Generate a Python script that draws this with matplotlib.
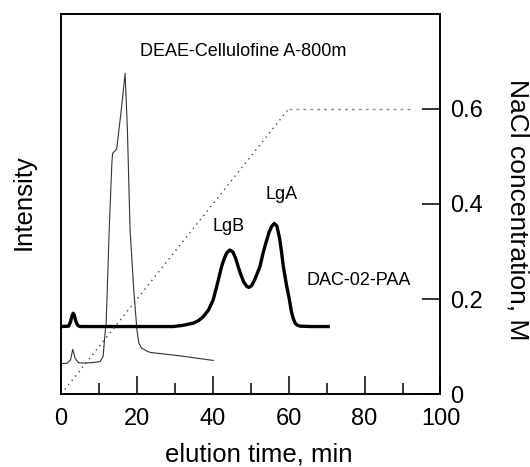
import matplotlib
matplotlib.use("Agg")
import matplotlib.pyplot as plt

plt.rcParams['font.family'] = ['Liberation Sans', 'DejaVu Sans']

# DEAE-Cellulofine A-800m trace (thin), intensity in arbitrary units (0-100)
deae_t = [0, 1.5, 2.5, 3.1, 3.7, 4.6, 6, 8, 10.3, 11.1, 11.6, 11.9, 12.7, 13.4,
          13.6, 14.0, 14.7, 15.8, 16.9, 17.5, 18.2, 19.2, 20.0, 20.5, 21.2,
          22.5, 23.5, 27, 31.4, 35, 40.1]
deae_i = [8.1, 8.1, 9.0, 11.8, 9.5, 8.3, 8.2, 8.3, 8.6, 9.9, 16.0, 18.6, 43.2, 60.7,
          63.3, 63.7, 64.6, 74.0, 84.3, 69.4, 43.2, 27.0, 17.0, 13.5, 12.2,
          11.4, 11.0, 10.6, 10.1, 9.6, 8.9]

# DAC-02-PAA trace (thick)
dac_t = [0, 2.0, 2.5, 2.9, 3.2, 3.5, 3.9, 4.4, 5, 10, 20, 29.6, 32, 34.9, 36.3,
         37.5, 38.9, 40.1, 41.2, 42.3, 43.0, 43.7, 44.5, 45.3, 46.0, 46.7, 47.4,
         48.2, 49.0, 49.5, 50.2, 51.0, 51.8, 52.4, 53.3, 54.2, 54.8, 55.5, 56.2,
         56.9, 57.6, 58.1, 58.6, 59.4, 60.2, 60.7, 61.2, 61.7, 62.2, 63.0, 66, 70.4]
dac_i = [17.8, 17.9, 19.0, 20.6, 21.3, 20.8, 19.2, 18.1, 17.8, 17.8, 17.8, 17.8,
         18.1, 18.7, 19.4, 20.4, 22.2, 24.8, 29.0, 33.5, 35.6, 37.2, 37.9, 37.4,
         35.8, 33.5, 31.4, 29.4, 28.3, 28.1, 28.5, 30.0, 32.0, 33.5, 37.3, 40.5,
         42.5, 44.1, 44.9, 44.2, 41.0, 37.5, 33.5, 28.8, 24.8, 21.8, 19.9, 18.7,
         18.2, 17.9, 17.8, 17.8]

# NaCl gradient
grad_t = [1, 60]
grad_c = [0.01, 0.6]
hold_t = [60, 93]
hold_c = [0.6, 0.6]

x_ticks = [0, 20, 40, 60, 80, 100]
nacl_ticks = [0, 0.2, 0.4, 0.6]
nacl_labels = ['0', '0.2', '0.4', '0.6']

fig = plt.figure(figsize=(5.3, 4.67), dpi=100)
ax = fig.add_axes([0.1151, 0.1557, 0.716, 0.815])
ax2 = ax.twinx()

ax.plot(deae_t, deae_i, color='#333333', lw=0.8)
ax.plot(dac_t, dac_i, color='black', lw=2.4, solid_joinstyle='round')
ax2.plot(grad_t, grad_c, color='#444444', lw=1.0, linestyle=(0, (1, 3)))
ax2.plot(hold_t, hold_c, color='#888888', lw=1.0, linestyle=(0, (2, 3)))

ax.set_xlim(0, 100)
ax.set_ylim(0, 100)
ax2.set_ylim(0, 0.8)

ax.set_xticks(x_ticks)
ax.set_xticks([10, 30, 50, 70, 90], minor=True)
ax.set_yticks([])
ax.tick_params(axis='x', which='major', direction='in', length=13, width=1.1,
               labelsize=17, pad=10)
ax.tick_params(axis='x', which='minor', direction='in', length=8, width=1.1)

ax2.set_yticks(nacl_ticks)
ax2.set_yticklabels(nacl_labels)
ax2.tick_params(axis='y', direction='in', length=13, width=1.1, labelsize=17, pad=7)

for a in (ax, ax2):
    for s in a.spines.values():
        s.set_linewidth(1.2)

ax.set_xlabel('elution time, min', fontsize=18.5)
ax.xaxis.set_label_coords(0.52, -0.159)
ax.xaxis.label.set_va('center')
ax.set_ylabel('Intensity', fontsize=18.5)
ax.yaxis.set_label_coords(-0.0985, 0.504)
ax.yaxis.label.set_va('center')
ax2.set_ylabel('NaCl concentration, M', fontsize=19, rotation=-90)
ax2.yaxis.set_label_coords(1.203, 0.484)
ax2.yaxis.label.set_va('center')

ax.text(48.1, 90.0, 'DEAE-Cellulofine A-800m', fontsize=13, ha='center', va='center')
ax.text(58.2, 52.4, 'LgA', fontsize=13, ha='center', va='center')
ax.text(44.1, 44.1, 'LgB', fontsize=13, ha='center', va='center')
ax.text(78.5, 30.0, 'DAC-02-PAA', fontsize=13, ha='center', va='center')

fig.savefig('out.png', dpi=100)
